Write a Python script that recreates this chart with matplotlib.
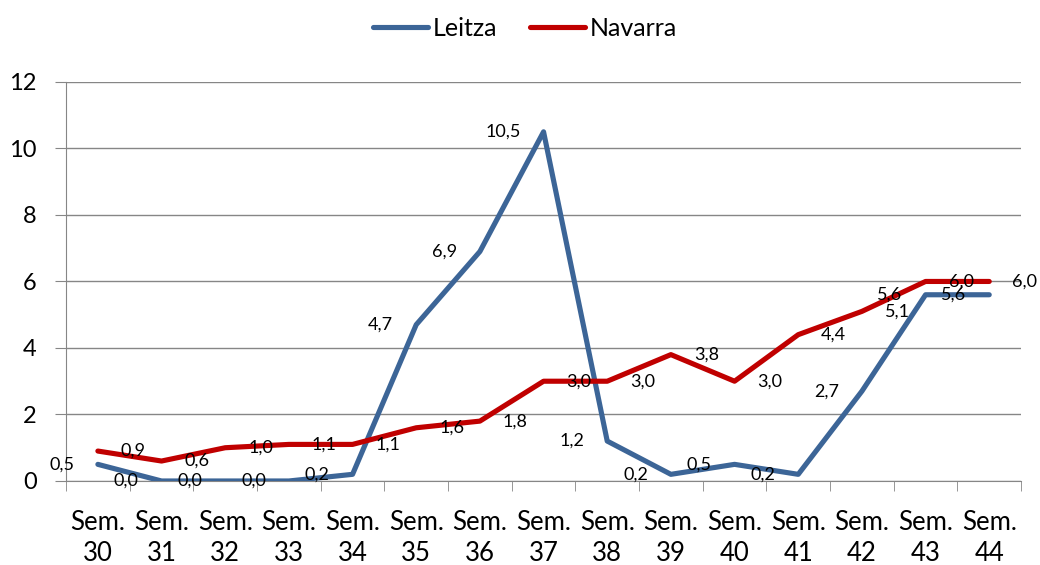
import numpy as np
import matplotlib.pyplot as plt

plt.rcParams['font.family'] = ['Lato', 'DejaVu Sans']

semanas = ["30", "31", "32", "33", "34", "35", "36", "37", "38", "39", "40", "41", "42", "43", "44"]
leitza = [0.5, 0.0, 0.0, 0.0, 0.2, 4.7, 6.9, 10.5, 1.2, 0.2, 0.5, 0.2, 2.7, 5.6, 5.6]
navarra = [0.9, 0.6, 1.0, 1.1, 1.1, 1.6, 1.8, 3.0, 3.0, 3.8, 3.0, 4.4, 5.1, 6.0, 6.0]

azul = '#3C6597'
rojo = '#C00000'
gris = '#868686'

fig = plt.figure(figsize=(10.4, 5.65), dpi=100)
ax = fig.add_axes([0.0635, 0.1487, 0.9183, 0.7063])

x = np.arange(len(semanas))
ax.plot(x, leitza, color=azul, lw=3.7, label='Leitza', solid_capstyle='round', zorder=3)
ax.plot(x, navarra, color=rojo, lw=3.7, label='Navarra', solid_capstyle='round', zorder=3)

def etiqueta(v):
    return f"{v:.1f}".replace('.', ',')

for xi, v in zip(x, leitza):
    ax.annotate(etiqueta(v), (xi, v), xytext=(-23, 0), textcoords='offset pixels',
                ha='right', va='center', fontsize=13, zorder=4)
for xi, v in zip(x, navarra):
    ax.annotate(etiqueta(v), (xi, v), xytext=(23, 0), textcoords='offset pixels',
                ha='left', va='center', fontsize=13, zorder=4, annotation_clip=False)

ax.set_xlim(-0.5, len(semanas) - 0.5)
ax.set_ylim(0, 12)
ax.set_yticks(np.arange(0, 13, 2))
ax.yaxis.grid(True, color=gris, lw=1)
ax.set_axisbelow(True)

ax.set_xticks(x)
ax.set_xticklabels(["Sem.\n" + s for s in semanas], fontsize=18.5, linespacing=1.3)
ax.set_xticks(np.arange(-0.5, len(semanas)), minor=True)
ax.tick_params(axis='x', which='major', length=0, pad=21)
ax.tick_params(axis='x', which='minor', length=7, color=gris, direction='out')
ax.tick_params(axis='y', length=8, color=gris, labelsize=17, pad=13)

for lado in ['top', 'right']:
    ax.spines[lado].set_visible(False)
for lado in ['left', 'bottom']:
    ax.spines[lado].set_color(gris)

leg = fig.legend(loc='upper center', bbox_to_anchor=(0.505, 1.01), ncol=2, frameon=False,
                 fontsize=18, handlelength=2.2, handletextpad=0.2, columnspacing=1.3)
for h in leg.get_lines():
    h.set_solid_capstyle('round')

fig.savefig('out.png', dpi=100)
